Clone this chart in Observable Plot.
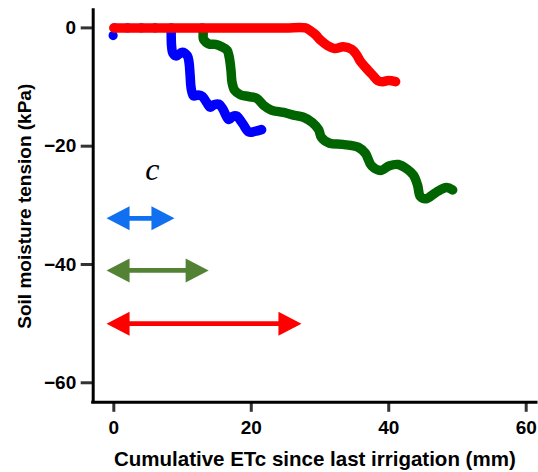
<!DOCTYPE html>
<html>
<head>
<meta charset="utf-8">
<script src="https://cdn.jsdelivr.net/npm/d3@7"></script>
<script src="https://cdn.jsdelivr.net/npm/@observablehq/plot@0.6"></script>
<style>
  body { margin: 0; background: #fff; }
</style>
</head>
<body>
<div id="chart"></div>
<script>
// ---- data ----
const xTicks = [0, 20, 40, 60];
const yTicks = [0, -20, -40, -60];
const xLabel = "Cumulative ETc since last irrigation (mm)";
const yLabel = "Soil moisture tension (kPa)";

const blueX = [-0.1, 0.1, 2, 4, 6, 8.35, 8.35, 8.4, 8.6, 9.1, 9.95, 10.7, 10.95, 11.1, 11.25, 11.6, 12.3, 12.9, 13.5, 14.05, 14.65, 15.3, 15.8, 16.75, 17.25, 17.85, 18.75, 19.65, 20.5, 21.5];
const blueY = [-1.3, 0, 0, 0, 0, 0, -1.3, -3.0, -4.3, -4.75, -4.1, -4.7, -5.9, -8.0, -10.2, -11.5, -11.35, -11.6, -12.6, -13.4, -12.95, -12.9, -13.6, -15.5, -15.0, -14.9, -16.2, -17.6, -17.5, -17.2];

const greenX = [12.9, 13.0, 13.05, 13.8, 14.8, 15.7, 16.5, 16.8, 17.05, 17.2, 17.6, 18.4, 19.6, 20.8, 21.8, 22.9, 24.7, 26.3, 27.6, 28.9, 29.8, 30.2, 31.4, 33.3, 35.6, 36.6, 37.5, 38.8, 40.1, 41.4, 42.7, 43.6, 44.2, 44.6, 45.4, 46.9, 48.4, 49.3];
const greenY = [0, -0.9, -1.9, -2.7, -2.8, -3.2, -3.8, -5.0, -7.2, -9.2, -10.6, -11.3, -11.6, -11.9, -13.1, -13.9, -14.3, -14.8, -15.1, -16.0, -17.2, -18.5, -19.5, -19.7, -20.2, -21.2, -23.3, -24.1, -23.3, -23.1, -23.9, -24.9, -26.6, -28.5, -28.9, -27.8, -27.0, -27.4];

const redX = [0, 5, 10, 15, 20, 25, 27.9, 28.5, 29.3, 30.1, 31.1, 32.1, 33.4, 34.6, 35.3, 35.9, 36.8, 37.6, 38.4, 39.1, 39.96, 41.0];
const redY = [0, 0, 0, 0, 0, 0, 0, -0.4, -1.1, -2.1, -3.0, -3.5, -3.2, -3.6, -4.5, -5.7, -6.9, -7.9, -8.9, -9.1, -8.9, -9.1];

const arrowY = [-32.2, -41.0, -50.0];
const arrowFrom = [-1.06, -1.06, -1.06];
const arrowTo = [8.83, 13.8, 27.3];
const arrowColors = ["#1170f0", "#548235", "#ff0000"];

const noteX = [5.6];
const noteY = [-24.0];
const noteText = ["c"];

// ---- build tables ----
const toRows = (xs, ys) => xs.map((x, i) => ({x, y: ys[i]}));
const blue = toRows(blueX, blueY);
const green = toRows(greenX, greenY);
const red = toRows(redX, redY);
const arrows = arrowY.map((y, i) => ({y, x1: arrowFrom[i], x2: arrowTo[i], color: arrowColors[i]}));
const notes = noteX.map((x, i) => ({x, y: noteY[i], text: noteText[i]}));

// filled arrow heads (tip at the anchor point)
const headRight = {draw(ctx, size) { const r = Math.sqrt(size / Math.PI); ctx.moveTo(0, 0); ctx.lineTo(-1.92 * r, -r); ctx.lineTo(-1.92 * r, r); ctx.closePath(); }};
const headLeft = {draw(ctx, size) { const r = Math.sqrt(size / Math.PI); ctx.moveTo(0, 0); ctx.lineTo(1.92 * r, -r); ctx.lineTo(1.92 * r, r); ctx.closePath(); }};

const lineStyle = {x: "x", y: "y", strokeWidth: 9.5, curve: "catmull-rom", strokeLinecap: "round", strokeLinejoin: "round"};

const chart = Plot.plot({
  width: 538,
  height: 472,
  marginLeft: 92.7,
  marginRight: 2,
  marginTop: 9.65,
  marginBottom: 70.2,
  x: {domain: [-3, 61.5]},
  y: {domain: [-63.3, 3]},
  color: {type: "identity"},
  style: {fontFamily: "Arial, 'Liberation Sans', sans-serif", fontWeight: "bold", fontSize: "19px", color: "#000", background: "#fff"},
  marks: [
    Plot.axisX({ticks: xTicks, tickSize: 10, tickPadding: 8, strokeWidth: 3, stroke: "#333", label: null, fontSize: 19}),
    Plot.axisX({ticks: [], tickSize: 0, label: xLabel, labelAnchor: "center", labelOffset: 64, labelArrow: "none", fontSize: 20.5}),
    Plot.axisY({ticks: yTicks, tickSize: 12, tickPadding: 5, strokeWidth: 3, stroke: "#333", label: null, fontSize: 19}),
    Plot.axisY({ticks: [], tickSize: 0, label: yLabel, labelAnchor: "center", labelOffset: 76, labelArrow: "none", fontSize: 19}),
    Plot.ruleX([-3], {stroke: "#000", strokeWidth: 3, strokeLinecap: "square"}),
    Plot.ruleY([-63.3], {stroke: "#000", strokeWidth: 3, strokeLinecap: "square"}),

    Plot.line(green, {...lineStyle, stroke: "#006400"}),
    Plot.dot(blue.slice(0, 5), {x: "x", y: "y", r: 4.6, fill: "#0000ff"}),
    Plot.line(blue.slice(5), {...lineStyle, stroke: "#0000ff"}),
    Plot.line(red, {...lineStyle, stroke: "#ff0000"}),

    Plot.ruleY(arrows, {y: "y", x1: "x1", x2: "x2", stroke: "color", strokeWidth: 4.7, insetLeft: 16, insetRight: 16}),
    Plot.dot(arrows, {x: "x2", y: "y", fill: "color", r: 12, symbol: headRight}),
    Plot.dot(arrows, {x: "x1", y: "y", fill: "color", r: 12, symbol: headLeft}),

    Plot.text(notes, {x: "x", y: "y", text: "text", fontFamily: "'Liberation Serif', 'DejaVu Serif', serif", fontStyle: "italic", fontWeight: "normal", fontSize: 32, fill: "#000"})
  ]
});
document.getElementById("chart").appendChild(chart);
</script>
</body>
</html>
